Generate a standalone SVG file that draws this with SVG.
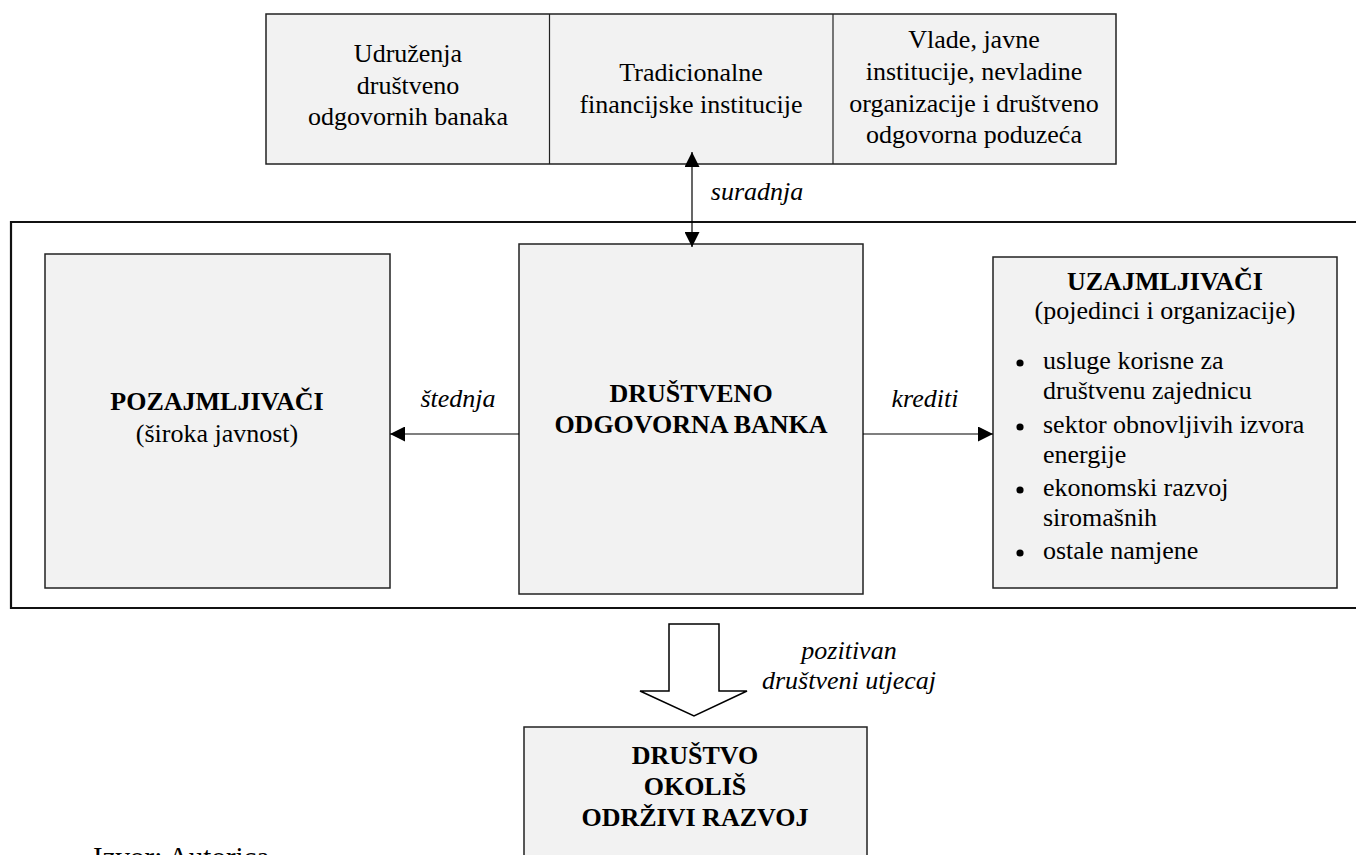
<svg xmlns="http://www.w3.org/2000/svg" width="1356" height="855" viewBox="0 0 1356 855">
<defs>
<style>
text{font-family:"Liberation Serif","Times New Roman",serif;font-size:26px;fill:#000;text-anchor:middle}
.b{font-weight:bold}
.i{font-style:italic}
.l{text-anchor:start}
.box{fill:#f2f2f2;stroke:#222;stroke-width:1.5}
.ln{stroke:#000;stroke-width:1.2;fill:none}
</style>
<marker id="ah" viewBox="0 0 10 10" refX="10" refY="5" markerWidth="15" markerHeight="15" markerUnits="userSpaceOnUse" orient="auto-start-reverse">
<path d="M0,0 L10,5 L0,10 Z" fill="#000"/>
</marker>
</defs>
<rect width="1356" height="855" fill="#fff"/>

<g id="frame">
<path d="M1360,222 L11,222 L11,608 L1360,608" fill="none" stroke="#111" stroke-width="2.2"/>
</g>

<g id="partners">
<rect class="box" x="266" y="14" width="850" height="150"/>
<line x1="549.5" y1="14" x2="549.5" y2="164" stroke="#222" stroke-width="1.2"/>
<line x1="833" y1="14" x2="833" y2="164" stroke="#222" stroke-width="1.2"/>
<text x="408" y="62">Udruženja</text>
<text x="408" y="94">društveno</text>
<text x="408" y="125">odgovornih banaka</text>
<text x="691" y="81">Tradicionalne</text>
<text x="691" y="113">financijske institucije</text>
<text x="974" y="48">Vlade, javne</text>
<text x="974" y="80">institucije, nevladine</text>
<text x="974" y="112">organizacije i društveno</text>
<text x="974" y="143">odgovorna poduzeća</text>
</g>

<g id="pozajmljivaci">
<rect class="box" x="45" y="254" width="345" height="334"/>
<text class="b" x="217" y="410">POZAJMLJIVAČI</text>
<text x="217" y="442">(široka javnost)</text>
</g>

<g id="banka">
<rect class="box" x="519" y="244" width="344" height="350"/>
<text class="b" x="691" y="402">DRUŠTVENO</text>
<text class="b" x="691" y="433">ODGOVORNA BANKA</text>
</g>

<g id="uzajmljivaci">
<rect class="box" x="993" y="257" width="344" height="331"/>
<text class="b" x="1165" y="290">UZAJMLJIVAČI</text>
<text x="1165" y="319">(pojedinci i organizacije)</text>
<circle cx="1020" cy="363" r="3.6"/>
<text class="l" x="1043" y="369">usluge korisne za</text>
<text class="l" x="1043" y="399">društvenu zajednicu</text>
<circle cx="1020" cy="427" r="3.6"/>
<text class="l" x="1043" y="433">sektor obnovljivih izvora</text>
<text class="l" x="1043" y="463">energije</text>
<circle cx="1020" cy="490" r="3.6"/>
<text class="l" x="1043" y="496">ekonomski razvoj</text>
<text class="l" x="1043" y="526">siromašnih</text>
<circle cx="1020" cy="553" r="3.6"/>
<text class="l" x="1043" y="559">ostale namjene</text>
</g>

<g id="drustvo">
<rect class="box" x="524" y="727" width="343" height="140"/>
<text class="b" x="695" y="764">DRUŠTVO</text>
<text class="b" x="695" y="795">OKOLIŠ</text>
<text class="b" x="695" y="826">ODRŽIVI RAZVOJ</text>
</g>

<g id="connectors">
<line class="ln" x1="692" y1="152" x2="692" y2="247" marker-start="url(#ah)" marker-end="url(#ah)"/>
<line class="ln" x1="519" y1="434" x2="390" y2="434" marker-end="url(#ah)"/>
<line class="ln" x1="863" y1="434" x2="993" y2="434" marker-end="url(#ah)"/>
<polygon points="669,624 719,624 719,691 747,691 694,716 640,691 669,691" fill="#fff" stroke="#000" stroke-width="1.5"/>
<text class="i" x="757" y="200">suradnja</text>
<text class="i" x="458" y="407">štednja</text>
<text class="i" x="925" y="407">krediti</text>
<text class="i" x="849" y="659">pozitivan</text>
<text class="i" x="849" y="689">društveni utjecaj</text>
</g>

<text class="l" x="93" y="867" style="font-size:29px">Izvor: Autorica</text>
</svg>
